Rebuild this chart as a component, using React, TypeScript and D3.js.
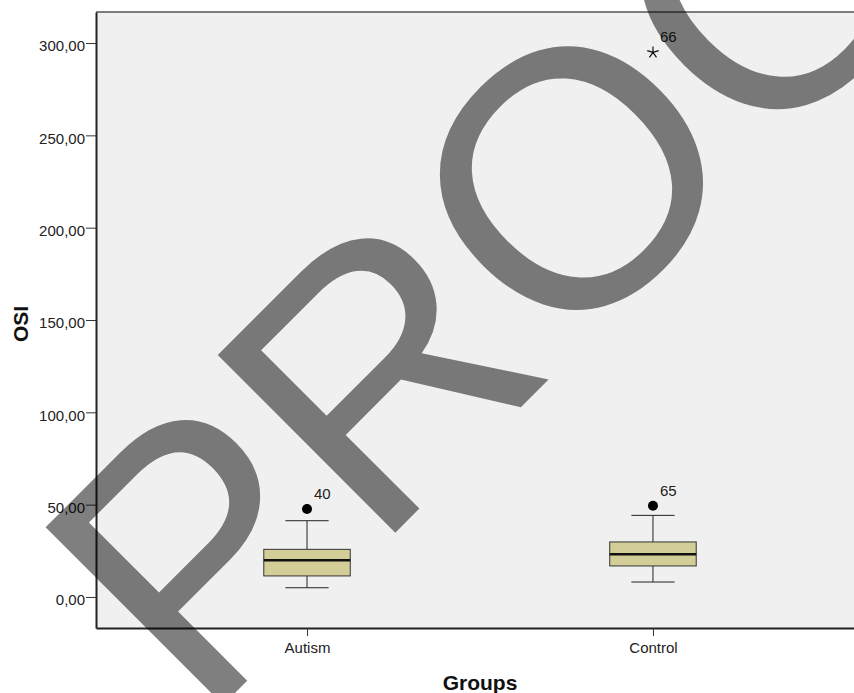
import React, { useEffect, useRef } from "react";
import * as d3 from "d3";

// box plot summary per group
const groups = ["Autism", "Control"];
const whiskerLow = [5.0, 8.1];
const q1 = [11.4, 16.8];
const median = [19.9, 23.1];
const q3 = [25.8, 29.8];
const whiskerHigh = [41.3, 44.2];

// outliers / extremes
const outlierGroup = ["Autism", "Control", "Control"];
const outlierValue = [47.6, 49.4, 294.9];
const outlierCase = ["40", "65", "66"];
const outlierKind = ["circle", "circle", "star"];

const yTicks = [0, 50, 100, 150, 200, 250, 300];
const watermark = "PROOF";

const FONT = "'Liberation Sans', Arial, sans-serif";
const fmt = (v: number) => v.toFixed(2).replace(".", ",");

export default function App() {
  const ref = useRef<SVGSVGElement>(null);

  useEffect(() => {
    const left = 96, right = 864, top = 12, bottom = 628;
    const svg = d3.select(ref.current);
    svg.selectAll("*").remove();

    const x = d3.scalePoint<string>().domain(groups).range([left, right]).padding(0.61);
    const y = d3.scaleLinear().domain([-16.8, 316.8]).range([bottom, top]);
    const step = x.step();
    const boxW = step * 0.25;
    const capW = boxW / 2;

    // plot background
    svg.append("rect")
      .attr("x", left).attr("y", top)
      .attr("width", right - left).attr("height", bottom - top)
      .attr("fill", "#f0f0f0");

    svg.append("line")
      .attr("x1", left).attr("x2", right)
      .attr("y1", top).attr("y2", top)
      .attr("stroke", "#555").attr("stroke-width", 1.5);

    // y axis
    const yAxis = svg.append("g")
      .attr("transform", `translate(${left},0)`)
      .call(d3.axisLeft(y).tickValues(yTicks).tickFormat((d) => fmt(+d)).tickSize(10).tickSizeOuter(0).tickPadding(1));
    yAxis.select(".domain").attr("stroke", "#222").attr("stroke-width", 2);
    yAxis.selectAll(".tick line").attr("stroke", "#333").attr("stroke-width", 1);
    yAxis.selectAll(".tick text")
      .attr("font-family", FONT).attr("font-size", 15).attr("fill", "#222")
      .attr("dy", "0.52em");

    // x axis
    const xAxis = svg.append("g")
      .attr("transform", `translate(0,${bottom})`)
      .call(d3.axisBottom(x).tickSize(8).tickSizeOuter(0).tickPadding(6));
    xAxis.select(".domain").attr("stroke", "#222").attr("stroke-width", 2);
    xAxis.selectAll(".tick line").attr("stroke", "#333").attr("stroke-width", 1);
    xAxis.selectAll(".tick text")
      .attr("font-family", FONT).attr("font-size", 15).attr("fill", "#222");

    // axis titles
    svg.append("text")
      .attr("x", (left + right) / 2).attr("y", 690)
      .attr("text-anchor", "middle")
      .attr("font-family", FONT).attr("font-size", 21).attr("font-weight", "bold")
      .attr("fill", "#111")
      .text("Groups");

    svg.append("text")
      .attr("transform", "translate(28,324) rotate(-90)")
      .attr("text-anchor", "middle")
      .attr("font-family", FONT).attr("font-size", 21).attr("font-weight", "bold")
      .attr("fill", "#111")
      .text("OSI");

    // boxes
    const g = svg.append("g");
    groups.forEach((grp, i) => {
      const cx = x(grp) as number;
      g.append("line")
        .attr("x1", cx).attr("x2", cx)
        .attr("y1", y(whiskerLow[i])).attr("y2", y(whiskerHigh[i]))
        .attr("stroke", "#222").attr("stroke-width", 1);
      [whiskerLow[i], whiskerHigh[i]].forEach((v) => {
        g.append("line")
          .attr("x1", cx - capW / 2).attr("x2", cx + capW / 2)
          .attr("y1", y(v)).attr("y2", y(v))
          .attr("stroke", "#222").attr("stroke-width", 1);
      });
      g.append("rect")
        .attr("x", cx - boxW / 2).attr("y", y(q3[i]))
        .attr("width", boxW).attr("height", y(q1[i]) - y(q3[i]))
        .attr("fill", "#d3ce97").attr("stroke", "#333").attr("stroke-width", 1);
      g.append("line")
        .attr("x1", cx - boxW / 2).attr("x2", cx + boxW / 2)
        .attr("y1", y(median[i])).attr("y2", y(median[i]))
        .attr("stroke", "#111").attr("stroke-width", 2.5);
    });

    // outliers
    outlierValue.forEach((v, i) => {
      const cx = x(outlierGroup[i]) as number;
      const cy = y(v);
      if (outlierKind[i] === "circle") {
        g.append("circle").attr("cx", cx).attr("cy", cy).attr("r", 5).attr("fill", "#000");
      } else {
        const r = 6;
        const p = d3.path();
        for (let k = 0; k < 5; k++) {
          const a = -Math.PI / 2 + (k * 2 * Math.PI) / 5;
          p.moveTo(cx, cy);
          p.lineTo(cx + r * Math.cos(a), cy + r * Math.sin(a));
        }
        g.append("path").attr("d", p.toString()).attr("stroke", "#111").attr("stroke-width", 1.2).attr("fill", "none");
      }
      g.append("text")
        .attr("x", cx + 7).attr("y", cy - 10)
        .attr("font-family", FONT).attr("font-size", 15).attr("fill", "#222")
        .text(outlierCase[i]);
    });

    // watermark
    svg.append("text")
      .attr("transform", "translate(202,726) rotate(-45)")
      .attr("font-family", FONT).attr("font-size", 365)
      .attr("fill", "#000").attr("fill-opacity", 0.5)
      .text(watermark);
  }, []);

  return (
    <svg
      ref={ref}
      width={854}
      height={693}
      style={{ position: "absolute", left: 0, top: 0, background: "#fff" }}
    />
  );
}
